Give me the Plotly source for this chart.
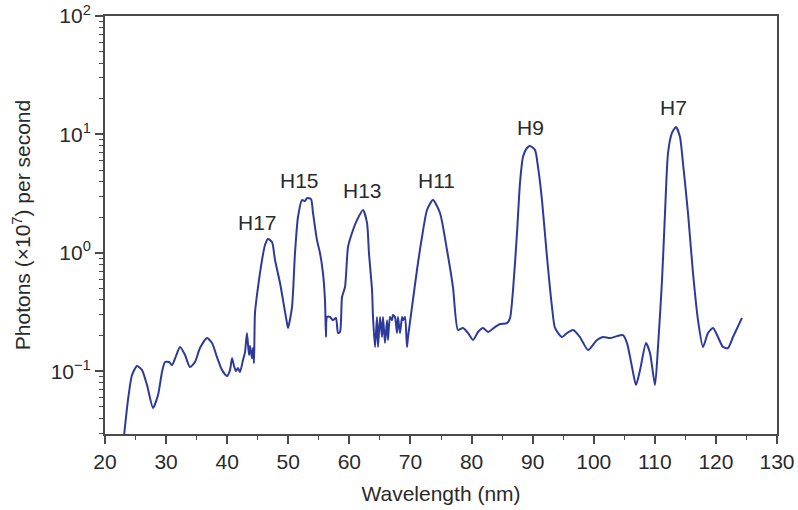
import math
import plotly.graph_objects as go

wavelength = [23.11, 23.76, 24.42, 25.24, 26.06, 26.88, 27.86, 28.68, 29.33, 29.82,
              30.48, 30.97, 31.62, 32.28, 33.10, 33.91, 34.73, 35.55, 36.70, 37.52,
              38.33, 39.15, 39.97, 40.46, 40.79, 41.12, 41.44, 41.77, 42.10, 42.59,
              42.92, 43.24, 43.57, 43.74, 44.06, 44.23, 44.39, 44.55, 45.05, 45.70,
              46.19, 46.68, 47.34, 47.83, 48.65, 49.14, 49.79, 49.96, 50.61, 51.10,
              51.59, 52.25, 52.74, 53.07, 53.72, 54.05, 54.70, 55.19, 55.68, 56.01,
              56.17, 56.34, 56.83, 57.32, 57.81, 58.14, 58.47, 58.80, 59.29, 59.78,
              60.43, 61.25, 62.23, 62.89, 63.21, 63.71, 63.87, 64.20, 64.52, 64.69,
              65.02, 65.34, 65.51, 65.83, 66.16, 66.32, 66.65, 66.98, 67.14, 67.47,
              67.80, 67.96, 68.29, 68.62, 68.78, 69.11, 69.43, 69.60, 70.25, 71.07,
              71.89, 72.71, 73.69, 74.84, 75.98, 76.96, 77.78, 78.60, 79.42, 80.24,
              81.06, 81.88, 82.69, 83.84, 84.66, 85.80, 86.30, 86.79, 87.44, 87.93,
              88.42, 89.08, 89.57, 90.39, 90.88, 91.53, 92.35, 93.17, 93.66, 94.81,
              95.63, 96.61, 97.75, 99.06, 100.54, 101.52, 102.66, 103.81, 104.79, 105.45,
              106.27, 106.92, 107.58, 108.56, 109.21, 110.03, 110.52, 111.18, 111.67, 112.16,
              112.81, 113.47, 114.12, 114.61, 115.43, 116.25, 117.07, 117.89, 118.71, 119.53,
              120.34, 121.16, 121.98, 122.80, 124.27]

photons = [0.0284, 0.0571, 0.0929, 0.1107, 0.1023, 0.0764, 0.0489, 0.0630, 0.0984, 0.1197,
           0.1197, 0.1128, 0.1343, 0.160, 0.137, 0.1084, 0.1197, 0.157, 0.1905, 0.173,
           0.1318, 0.1023, 0.091, 0.1023, 0.129, 0.1107, 0.1004, 0.1064, 0.0984, 0.1245,
           0.145, 0.2104, 0.137, 0.163, 0.129, 0.157, 0.117, 0.310, 0.514, 0.869,
           1.164, 1.308, 1.233, 0.869, 0.556, 0.399, 0.255, 0.232, 0.348, 0.996,
           2.006, 2.79, 2.74, 2.90, 2.84, 2.17, 1.28, 0.996, 0.675, 0.399,
           0.1945, 0.287, 0.287, 0.270, 0.282, 0.2104, 0.2145, 0.424, 0.514, 1.12,
           1.47, 1.89, 2.30, 1.79, 0.996, 0.485, 0.287, 0.160, 0.287, 0.160,
           0.287, 0.1945, 0.287, 0.173, 0.270, 0.1837, 0.287, 0.270, 0.2985, 0.287,
           0.2104, 0.287, 0.2104, 0.287, 0.270, 0.287, 0.160, 0.1945, 0.348, 0.716,
           1.36, 2.30, 2.79, 2.17, 1.056, 0.514, 0.223, 0.232, 0.2104, 0.1837,
           0.2145, 0.232, 0.2145, 0.236, 0.2506, 0.255, 0.281, 0.485, 1.47, 3.89,
           6.44, 7.68, 7.98, 7.38, 5.31, 2.79, 0.922, 0.348, 0.232, 0.1945,
           0.2104, 0.223, 0.1945, 0.151, 0.1837, 0.1945, 0.1905, 0.198, 0.202, 0.173,
           0.1084, 0.0764, 0.1023, 0.173, 0.1425, 0.0764, 0.160, 0.589, 2.17, 6.96,
           10.3, 11.55, 9.51, 5.73, 2.17, 0.675, 0.270, 0.160, 0.2104, 0.232,
           0.1945, 0.160, 0.157, 0.1945, 0.282]

harmonic_labels = ["H17", "H15", "H13", "H11", "H9", "H7"]
label_x = [45.0, 51.9, 62.1, 74.2, 89.6, 113.1]
label_y = [1.82, 4.12, 3.39, 4.12, 11.5, 17.0]

x_ticks = list(range(20, 131, 10))
y_tickvals = [0.1, 1, 10, 100]
y_ticktext = ["10<sup>\u22121</sup>", "10<sup>0</sup>", "10<sup>1</sup>", "10<sup>2</sup>"]

FONT = "Liberation Sans, Arial, sans-serif"
TXT = "#2a2a2a"
AX = "#4a4a4a"
FS = 21

fig = go.Figure()
fig.add_trace(go.Scatter(
    x=wavelength, y=photons, mode="lines",
    line=dict(color="#2d3a9c", width=2, shape="spline", smoothing=0.6),
    hoverinfo="x+y", showlegend=False,
))

for t, xx, yy in zip(harmonic_labels, label_x, label_y):
    fig.add_annotation(x=xx, y=math.log10(yy), yref="y", xref="x", text=t, showarrow=False,
                       font=dict(family=FONT, size=FS, color=TXT))

y_minor = [m * 10 ** e for e in (-2, -1, 0, 1) for m in range(2, 10)]
y_minor = [v for v in y_minor if 0.029 < v < 100]

fig.update_layout(
    width=798, height=510,
    margin=dict(l=105, r=21, t=16, b=76),
    paper_bgcolor="white", plot_bgcolor="white",
    font=dict(family=FONT, size=FS, color=TXT),
    xaxis=dict(
        range=[20, 130], tickvals=x_ticks, ticks="outside", ticklen=8, tickwidth=1.5,
        tickcolor=AX, showline=True, linecolor=AX, linewidth=2, mirror=True,
        showgrid=False, zeroline=False, automargin=False,
        minor=dict(tickvals=[25 + 10 * i for i in range(11)], ticks="outside",
                   ticklen=4, tickwidth=1.2, tickcolor=AX, showgrid=False),
        title=dict(text="Wavelength (nm)", font=dict(size=FS, family=FONT, color=TXT), standoff=14),
        tickfont=dict(size=FS, family=FONT, color=TXT),
    ),
    yaxis=dict(
        type="log", range=[-1.53, 2], tickvals=y_tickvals, ticktext=y_ticktext,
        ticks="outside", ticklen=8, tickwidth=1.5, tickcolor=AX,
        showline=True, linecolor=AX, linewidth=2, mirror=True,
        showgrid=False, zeroline=False, automargin=False,
        minor=dict(tickvals=y_minor, ticks="outside", ticklen=4, tickwidth=1.2,
                   tickcolor=AX, showgrid=False),
        title=dict(text="Photons (\u00d710<sup>7</sup>) per second",
                   font=dict(size=FS, family=FONT, color=TXT), standoff=14),
        tickfont=dict(size=FS, family=FONT, color=TXT),
    ),
)

fig.write_html("out.html")
